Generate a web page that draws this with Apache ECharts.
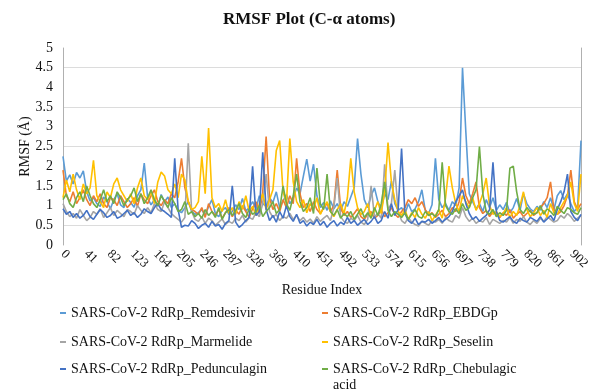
<!DOCTYPE html>
<html>
<head>
<meta charset="utf-8">
<script src="https://cdn.jsdelivr.net/npm/echarts@6/dist/echarts.min.js"></script>
<style>
  html, body { margin: 0; padding: 0; background: #fff; }
  #chart { width: 594px; height: 391px; }
</style>
</head>
<body>
<div id="chart"></div>
<script>
// residue index sampled every 6 residues (0 .. 918)
const STEP = 6;
const residues = Array.from({ length: 154 }, (_, i) => i * STEP);
const xTickInterval = 41;

const seriesNames = [
  'SARS-CoV-2 RdRp_Remdesivir',
  'SARS-CoV-2 RdRp_EBDGp',
  'SARS-CoV-2 RdRp_Marmelide',
  'SARS-CoV-2 RdRp_Seselin',
  'SARS-CoV-2 RdRp_Pedunculagin',
  'SARS-CoV-2 RdRp_Chebulagic acid',
];

const remdesivir = [
  2.25, 1.62, 1.78, 1.55, 1.84, 1.70, 1.88, 1.35, 1.12, 1.20,
  1.05, 0.98, 1.22, 1.10, 0.92, 1.15, 1.30, 1.02, 0.95, 1.18,
  1.08, 0.96, 1.25, 1.40, 2.08, 1.20, 1.02, 1.15, 0.98, 1.28,
  1.10, 1.22, 0.95, 1.05, 0.88, 0.82, 0.95, 1.10, 0.86, 0.78,
  0.82, 0.90, 0.75, 0.98, 1.15, 0.80, 0.72, 0.88, 0.95, 0.78,
  0.85, 1.02, 0.90, 1.18, 0.86, 0.95, 1.10, 0.92, 1.25, 1.05,
  0.98, 1.20, 1.08, 1.35, 0.95, 1.12, 1.28, 1.05, 1.18, 1.45,
  1.30, 1.75, 2.18, 1.62, 2.05, 1.25, 0.95, 1.08, 0.88, 1.12,
  0.92, 1.05, 0.85, 1.10, 0.98, 1.22, 1.45, 2.70, 1.80, 1.15,
  0.95, 1.25, 1.45, 1.10, 0.92, 1.30, 1.15, 1.62, 1.05, 0.88,
  0.95, 0.78, 1.05, 0.85, 0.92, 1.10, 1.40, 0.88, 0.80, 1.02,
  2.20, 1.15, 0.95, 1.05, 0.88, 1.10, 1.00, 1.45, 4.50, 2.85,
  1.30, 1.10, 0.92, 1.05, 0.85, 1.15, 0.95, 1.20, 0.88, 1.02,
  0.90, 1.08, 0.82, 0.95, 1.18, 0.88, 1.30, 1.05, 0.92, 0.85,
  0.98, 0.88, 1.10, 0.95, 1.20, 0.90, 1.25, 1.38, 1.15, 1.30,
  1.05, 0.85, 0.95, 2.65,
];

const ebdgp = [
  1.90, 1.25, 1.10, 1.35, 1.05, 1.20, 1.40, 1.15, 1.00, 1.25,
  1.10, 1.30, 1.05, 0.95, 1.20, 1.15, 1.00, 1.25, 1.10, 0.95,
  1.05, 1.20, 0.98, 1.30, 1.15, 1.05, 1.25, 1.40, 1.10, 1.00,
  1.15, 1.05, 1.30, 1.20, 1.60, 2.20, 1.45, 1.10, 0.90, 0.85,
  0.78, 0.95, 0.70, 1.05, 0.85, 0.75, 0.90, 0.68, 0.82, 0.95,
  0.72, 0.88, 0.78, 1.00, 0.85, 0.70, 0.92, 1.10, 0.80, 1.35,
  2.75, 1.20, 0.90, 1.05, 0.85, 1.15, 0.95, 1.25, 1.05, 2.20,
  1.30, 0.95, 1.05, 0.85, 1.10, 0.90, 0.80, 0.95, 1.05, 0.85,
  1.00, 1.90, 0.95, 0.75, 0.85, 0.70, 0.80, 0.92, 0.72, 0.65,
  0.78, 0.85, 0.68, 0.75, 0.90, 0.72, 0.82, 0.95, 0.78, 0.70,
  0.85, 0.95, 1.15, 1.05, 1.20, 0.98, 1.10, 0.90, 0.75, 0.82,
  0.70, 0.78, 0.88, 0.72, 0.80, 0.95, 0.85, 1.10, 1.70, 1.25,
  1.05, 1.30, 1.60, 0.95, 0.80, 0.88, 0.72, 0.85, 0.78, 0.70,
  0.82, 0.75, 0.90, 0.68, 0.78, 0.85, 0.72, 0.80, 0.88, 0.75,
  0.82, 0.95, 1.05, 1.20, 1.60, 0.90, 0.78, 0.85, 1.00, 1.25,
  1.90, 1.10, 0.90, 1.05,
];

const marmelide = [
  1.05, 0.85, 0.72, 0.80, 0.68, 0.90, 0.75, 0.62, 0.70, 0.85,
  0.78, 0.92, 0.70, 0.82, 0.95, 0.75, 0.88, 0.80, 0.72, 0.90,
  0.85, 0.78, 1.00, 0.88, 0.80, 0.95, 0.82, 1.05, 0.90, 0.85,
  1.10, 0.95, 0.80, 0.72, 0.65, 0.58, 0.70, 2.58, 0.85, 0.65,
  0.60, 0.72, 0.55, 0.68, 0.62, 0.50, 0.58, 0.66, 0.52, 0.60,
  0.55, 0.68, 0.62, 0.75, 0.58, 0.70, 0.65, 0.82, 0.72, 1.05,
  1.80, 0.85, 0.70, 0.78, 0.62, 0.72, 0.68, 0.80, 0.65, 0.75,
  0.62, 0.70, 0.58, 0.66, 0.55, 0.72, 0.60, 0.68, 0.75, 0.62,
  0.95, 1.70, 0.72, 0.60, 0.55, 0.68, 0.62, 0.75, 0.58, 0.52,
  0.65, 1.50, 0.72, 0.80, 0.68, 2.05, 0.90, 1.05, 1.90, 0.85,
  0.62, 0.55, 0.70, 0.58, 0.52, 0.48, 0.60, 0.55, 0.50, 0.62,
  0.58, 0.65, 0.55, 0.70, 0.62, 0.58, 0.75, 0.68, 0.95, 0.72,
  0.60, 0.68, 0.55, 0.62, 0.58, 0.70, 0.52, 0.65, 0.60, 0.55,
  0.62, 0.58, 0.70, 0.55, 0.65, 0.60, 0.72, 0.58, 0.52, 0.62,
  0.55, 0.68, 0.60, 0.72, 0.65, 0.58, 0.62, 0.75, 0.68, 0.80,
  0.72, 0.60, 0.68, 0.75,
];

const seselin = [
  1.20, 1.65, 1.35, 1.80, 1.40, 1.15, 1.55, 1.30, 1.45, 2.15,
  1.25, 1.10, 0.95, 1.35, 1.20, 1.55, 1.70, 1.40, 1.25, 1.10,
  1.30, 1.05, 1.45, 1.70, 1.25, 1.15, 1.35, 1.05, 1.60, 1.85,
  1.75, 1.40, 1.30, 1.55, 1.20, 1.80, 1.65, 1.10, 0.90, 0.95,
  1.10, 2.25, 1.30, 2.97, 1.20, 0.95, 1.05, 0.85, 1.15, 0.80,
  0.95, 0.78, 1.10, 0.90, 1.25, 0.85, 0.98, 0.75, 1.05, 1.30,
  0.90, 1.15, 1.40, 2.40, 2.65, 1.35, 1.05, 2.70, 1.60, 1.10,
  0.95, 1.15, 0.82, 1.05, 0.90, 1.20, 0.78, 0.95, 1.10, 0.85,
  0.72, 0.90, 1.05, 0.80, 1.20, 2.20, 1.35, 0.95, 0.78, 0.85,
  1.05, 0.72, 0.88, 1.10, 0.80, 1.35, 2.60, 1.60, 1.15, 0.85,
  0.75, 0.90, 0.65, 0.82, 0.70, 0.95, 0.78, 0.68, 0.85, 0.62,
  0.75, 0.90, 0.68, 1.20, 2.00, 1.45, 1.05, 0.85, 1.25, 1.10,
  0.95, 1.20, 0.88, 1.05, 1.30, 1.70, 1.00, 0.78, 0.85, 0.72,
  0.80, 0.95, 0.70, 0.85, 0.75, 1.00, 1.35, 0.90, 0.72, 0.82,
  0.95, 0.75, 0.88, 0.70, 1.05, 0.82, 0.78, 0.95, 1.10, 1.25,
  1.60, 1.05, 0.85, 1.80,
];

const pedunculagin = [
  0.92, 0.78, 0.85, 0.70, 0.80, 0.68, 0.75, 0.88, 0.72, 0.65,
  0.78, 0.90, 0.82, 0.70, 0.75, 0.85, 0.68, 0.72, 0.80, 0.88,
  0.75, 0.82, 0.70, 0.78, 0.92, 0.85, 0.80, 0.95, 1.05, 0.90,
  0.85, 0.78, 0.70, 2.20, 0.90, 0.45, 0.50, 0.48, 0.62, 0.55,
  0.42, 0.50, 0.55, 0.45, 0.60, 0.48, 0.52, 0.40, 0.55, 0.62,
  1.50, 0.58, 0.45, 0.52, 0.62, 0.70, 2.00, 0.75, 0.85, 2.35,
  0.90, 0.62, 0.75, 0.58, 0.85, 0.68, 1.00, 0.72, 0.60, 0.78,
  0.55, 0.62, 0.48, 0.58, 0.52, 0.65, 0.50, 0.60, 0.45, 0.55,
  0.62, 0.48, 0.58, 0.52, 0.70, 0.55, 0.62, 0.50, 0.58, 0.65,
  0.52, 0.60, 0.72, 0.55, 0.62, 0.85, 0.68, 1.05, 0.75, 0.90,
  2.45, 0.80, 0.62, 0.55, 0.68, 0.52, 0.60, 0.58, 0.65, 0.55,
  0.62, 0.70, 0.58, 0.65, 0.72, 0.85, 1.10, 1.25, 1.40, 1.05,
  0.80, 0.65, 0.72, 0.60, 0.68, 0.75, 0.90, 2.10, 0.85, 0.62,
  0.58, 0.65, 0.72, 0.60, 0.55, 0.68, 0.62, 0.58, 0.70, 0.65,
  0.60, 0.72, 0.58, 0.66, 0.75, 0.62, 0.90, 1.10, 1.35, 1.80,
  0.85, 0.70, 0.62, 0.78,
];

const chebulagic = [
  1.15, 1.30, 1.05, 0.95, 1.20, 1.35, 1.10, 1.50, 1.25, 1.05,
  0.95, 1.15, 1.40, 1.10, 1.25, 1.05, 1.35, 1.20, 1.00, 1.15,
  1.25, 1.45, 1.10, 1.30, 1.05, 1.20, 1.40, 1.15, 1.00, 1.25,
  1.10, 0.95, 1.20, 1.05, 0.85, 0.90, 1.10, 0.78, 0.85, 0.72,
  0.80, 0.68, 0.90, 0.75, 0.85, 0.70, 0.95, 0.65, 0.82, 0.90,
  0.75, 0.88, 1.05, 0.80, 0.70, 0.92, 0.78, 0.85, 1.00, 0.72,
  0.85, 0.95, 1.10, 0.80, 0.90, 1.50, 1.05, 0.88, 1.25, 1.80,
  1.10, 0.85, 0.95, 1.20, 0.80, 1.95, 1.05, 0.90, 1.80, 0.85,
  0.75, 0.90, 0.68, 0.80, 0.72, 0.85, 0.65, 0.78, 0.92, 0.70,
  0.82, 0.68, 0.95, 0.75, 1.05, 1.60, 0.88, 0.72, 0.85, 0.78,
  0.70, 0.82, 0.65, 0.78, 0.90, 0.72, 0.68, 0.85, 0.75, 0.80,
  0.72, 0.90, 2.10, 1.00, 0.85, 0.78, 0.92, 0.80, 1.05, 0.88,
  0.95, 1.20, 1.40, 2.50, 1.30, 0.85, 0.78, 0.90, 0.72, 0.82,
  0.75, 0.88, 1.95, 2.00, 1.35, 0.90, 0.80, 0.95, 0.85, 0.78,
  0.82, 1.00, 0.78, 0.92, 0.85, 0.75, 0.98, 0.88, 0.80, 0.95,
  0.90, 0.82, 0.78, 0.95,
];

const seriesData = [remdesivir, ebdgp, marmelide, seselin, pedunculagin, chebulagic];
const colors = ['#5B9BD5', '#ED7D31', '#A5A5A5', '#FFC000', '#4472C4', '#70AD47'];

const FONT = 'Liberation Serif';
const chart = echarts.init(document.getElementById('chart'), null, { renderer: 'canvas' });

// legend laid out as two columns, one component per entry
const legendPos = [
  { left: 60, top: 305 },
  { left: 322, top: 305 },
  { left: 60, top: 334 },
  { left: 322, top: 334 },
  { left: 60, top: 361 },
  { left: 322, top: 345 },
];

// the wrapped entry gets a blank first line so its icon sits on the first text line
const wrapName = n => (n.indexOf('Chebulagic acid') >= 0
  ? ' \n' + n.replace('Chebulagic acid', 'Chebulagic\nacid')
  : n);

const legends = seriesNames.map((name, i) => ({
  data: [name],
  left: legendPos[i].left,
  top: legendPos[i].top,
  padding: 0,
  icon: 'rect',
  itemWidth: 6,
  itemHeight: 2,
  selectedMode: false,
  formatter: wrapName,
  textStyle: { fontFamily: FONT, fontSize: 14, color: '#111', lineHeight: 16 },
}));

const option = {
  animation: false,
  backgroundColor: '#fff',
  color: colors,
  title: {
    text: 'RMSF Plot (C-α atoms)',
    left: 223,
    top: 11,
    padding: 0,
    textStyle: { fontFamily: FONT, fontSize: 17, fontWeight: 'bold', color: '#111' },
  },
  legend: legends,
  grid: { left: 63, right: 13, top: 48, bottom: 146, containLabel: false },
  xAxis: {
    type: 'value',
    min: 0,
    max: 918,
    interval: xTickInterval,
    name: 'Residue Index',
    nameLocation: 'middle',
    nameGap: 38,
    nameTextStyle: { fontFamily: FONT, fontSize: 14, color: '#111' },
    axisLine: { show: false },
    axisTick: { show: false },
    splitLine: { show: false },
    axisLabel: {
      rotate: -45,
      margin: 7,
      showMaxLabel: false,
      fontFamily: FONT,
      fontSize: 13,
      color: '#111',
    },
  },
  yAxis: [
    {
      type: 'value',
      min: 0,
      max: 5,
      interval: 0.5,
      name: 'RMSF (Å)',
      nameLocation: 'middle',
      nameGap: 31,
      nameMoveOverlap: false,
      nameTextStyle: { fontFamily: FONT, fontSize: 14, color: '#111' },
      axisLine: { show: true, lineStyle: { color: '#b0b0b0', width: 1 } },
      axisTick: { show: false },
      splitLine: { show: false },
      axisLabel: { fontFamily: FONT, fontSize: 14, color: '#111', margin: 10 },
    },
    {
      // right edge line and gridlines at the half values
      type: 'value',
      position: 'right',
      min: 0,
      max: 5,
      interval: 1,
      axisLine: { show: true, lineStyle: { color: '#b0b0b0', width: 1 } },
      axisTick: { show: false },
      axisLabel: { show: false },
      splitLine: { show: false },
      minorTick: { show: false, splitNumber: 2 },
      minorSplitLine: { show: true, lineStyle: { color: '#dcdcdc', width: 1 } },
    },
  ],
  series: seriesNames.map((name, i) => ({
    name,
    type: 'line',
    yAxisIndex: 0,
    symbol: 'none',
    lineStyle: { width: 1.6, color: colors[i] },
    itemStyle: { color: colors[i] },
    data: residues.map((r, k) => [r, seriesData[i][k]]),
  })),
};

chart.setOption(option);
</script>
</body>
</html>
